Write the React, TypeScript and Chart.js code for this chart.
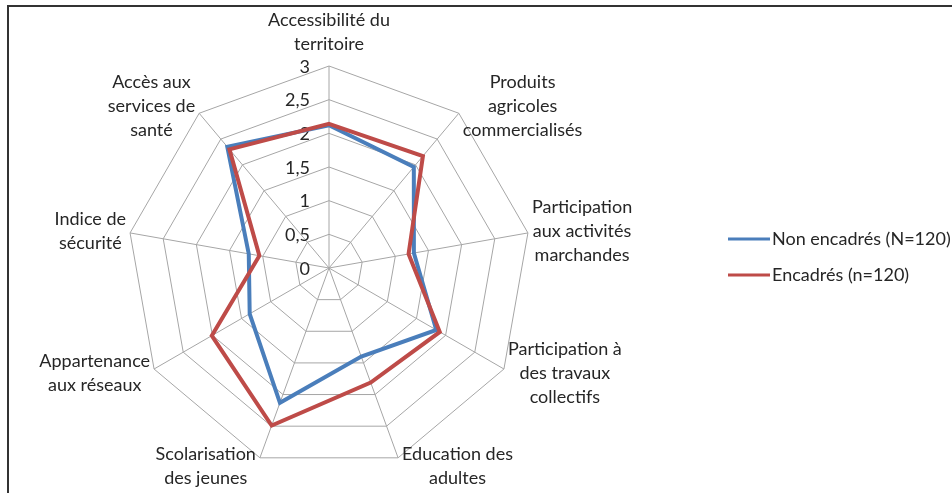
import React, { useEffect, useRef } from "react";
import { Chart, registerables } from "chart.js";

Chart.register(...registerables);

const categories: string[][] = [
  ["Accessibilité du", "territoire"],
  ["Produits", "agricoles", "commercialisés"],
  ["Participation", "aux activités", "marchandes"],
  ["Participation à", "des travaux", "collectifs"],
  ["Education des", "adultes"],
  ["Scolarisation", "des jeunes"],
  ["Appartenance", "aux réseaux"],
  ["Indice de", "sécurité"],
  ["Accès aux", "services de", "santé"],
];

const nonEncadres = [2.12, 1.96, 1.28, 1.84, 1.4, 2.13, 1.36, 1.21, 2.35];
const encadres = [2.14, 2.17, 1.2, 1.9, 1.81, 2.49, 2.01, 1.05, 2.3];

const tickValues = [0, 0.5, 1, 1.5, 2, 2.5, 3];
const tickLabels = ["0", "0,5", "1", "1,5", "2", "2,5", "3"];

const seriesNames = ["Non encadrés (N=120)", "Encadrés (n=120)"];
const seriesColors = ["#4a7ebb", "#be4b48"];

const FONT = "18px Lato, 'Open Sans', sans-serif";
const TEXT_COLOR = "#262626";

const labelsPlugin = {
  id: "customLabels",
  beforeDatasetsDraw(chart: any) {
    const scale = chart.scales.r;
    const ctx = chart.ctx;
    ctx.save();
    ctx.font = FONT;
    ctx.fillStyle = TEXT_COLOR;
    ctx.textAlign = "right";
    ctx.textBaseline = "middle";
    tickValues.forEach((v, i) => {
      const d = scale.getDistanceFromCenterForValue(v);
      ctx.fillText(tickLabels[i], scale.xCenter - 19, scale.yCenter - d + 1);
    });
    ctx.restore();
  },
  afterDraw(chart: any) {
    const scale = chart.scales.r;
    const ctx = chart.ctx;
    const lh = 24;
    ctx.save();
    ctx.font = FONT;
    ctx.fillStyle = TEXT_COLOR;
    ctx.textAlign = "center";
    ctx.textBaseline = "middle";
    const n = categories.length;
    categories.forEach((lines, i) => {
      const p = scale.getPointPosition(i, scale.drawingArea);
      const theta = (i * 2 * Math.PI) / n;
      const w = Math.max(...lines.map((l) => ctx.measureText(l).width));
      const cnt = lines.length;
      let cx: number;
      let cy: number;
      if (i === 0) {
        cx = p.x;
        const bottom = p.y - 10;
        cy = bottom - (cnt * lh) / 2;
      } else {
        const right = theta < Math.PI;
        cx = right ? p.x + 4 + w / 2 : p.x - 4 - w / 2;
        cy = p.y - 9 * Math.cos(theta);
      }
      lines.forEach((l, k) => {
        ctx.fillText(l, cx, cy + (k - (cnt - 1) / 2) * lh);
      });
    });

    // legend
    const lx = 728;
    const ly0 = 239;
    const gap = 36;
    chart.data.datasets.forEach((ds: any, i: number) => {
      const y = ly0 + i * gap;
      ctx.strokeStyle = ds.borderColor;
      ctx.lineWidth = 3;
      ctx.beginPath();
      ctx.moveTo(lx, y);
      ctx.lineTo(lx + 42, y);
      ctx.stroke();
      ctx.textAlign = "left";
      ctx.fillStyle = TEXT_COLOR;
      ctx.fillText(ds.label, lx + 44, y);
    });
    ctx.restore();
  },
};

export default function App() {
  const ref = useRef<HTMLCanvasElement | null>(null);
  useEffect(() => {
    if (!ref.current) return;
    const chart = new Chart(ref.current, {
      type: "radar",
      data: {
        labels: categories,
        datasets: [
          {
            label: seriesNames[0],
            data: nonEncadres,
            borderColor: seriesColors[0],
            backgroundColor: "transparent",
            borderWidth: 4,
            pointRadius: 0,
            fill: false,
            order: 1,
          },
          {
            label: seriesNames[1],
            data: encadres,
            borderColor: seriesColors[1],
            backgroundColor: "transparent",
            borderWidth: 4,
            pointRadius: 0,
            fill: false,
            order: 0,
          },
        ],
      },
      options: {
        responsive: false,
        animation: false,
        layout: { padding: { left: 127, right: 421, top: 66, bottom: 23 } },
        elements: { line: { tension: 0, borderJoinStyle: "miter" } },
        scales: {
          r: {
            min: 0,
            max: 3,
            ticks: { stepSize: 0.5, display: false },
            grid: { color: "#a6a6a6", lineWidth: 1, circular: false },
            angleLines: { color: "#a6a6a6", lineWidth: 1 },
            pointLabels: { display: false },
          },
        },
        plugins: {
          legend: { display: false },
          tooltip: { enabled: false },
        },
      },
      plugins: [labelsPlugin],
    });
    return () => chart.destroy();
  }, []);

  return (
    <div style={{ position: "fixed", left: 0, top: 0, width: 952, height: 493, background: "#fff", overflow: "hidden" }}>
      <div
        style={{
          position: "absolute",
          left: 7,
          top: 5,
          width: 1000,
          height: 600,
          borderTop: "2px solid #333",
          borderLeft: "2px solid #333",
        }}
      />
      <canvas ref={ref} width={952} height={493} style={{ position: "absolute", left: 0, top: 0, width: 952, height: 493 }} />
    </div>
  );
}
